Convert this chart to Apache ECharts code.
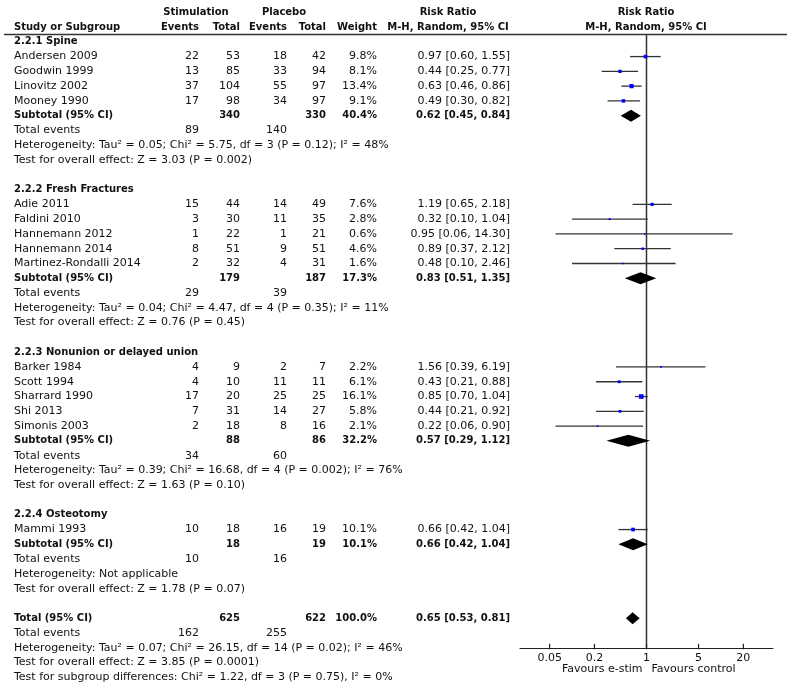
<!DOCTYPE html>
<html>
<head>
<meta charset="utf-8">
<script src="https://cdn.jsdelivr.net/npm/echarts@6/dist/echarts.min.js"></script>
<style>
html,body{margin:0;padding:0;background:#fff;}
#c{width:787px;height:689px;}
</style>
</head>
<body>
<div id="c"></div>
<script>
// ---------------- DATA ----------------
const groupNames = ['2.2.1 Spine', '2.2.2 Fresh Fractures', '2.2.3 Nonunion or delayed union', '2.2.4 Osteotomy'];

const studyGroup = [0, 0, 0, 0, 1, 1, 1, 1, 1, 2, 2, 2, 2, 2, 3];
const studyNames = ['Andersen 2009', 'Goodwin 1999', 'Linovitz 2002', 'Mooney 1990',
  'Adie 2011', 'Faldini 2010', 'Hannemann 2012', 'Hannemann 2014', 'Martinez-Rondalli 2014',
  'Barker 1984', 'Scott 1994', 'Sharrard 1990', 'Shi 2013', 'Simonis 2003', 'Mammi 1993'];
const stimEvents = [22, 13, 37, 17, 15, 3, 1, 8, 2, 4, 4, 17, 7, 2, 10];
const stimTotal = [53, 85, 104, 98, 44, 30, 22, 51, 32, 9, 10, 20, 31, 18, 18];
const placEvents = [18, 33, 55, 34, 14, 11, 1, 9, 4, 2, 11, 25, 14, 8, 16];
const placTotal = [42, 94, 97, 97, 49, 35, 21, 51, 31, 7, 11, 25, 27, 16, 19];
const weights = [9.8, 8.1, 13.4, 9.1, 7.6, 2.8, 0.6, 4.6, 1.6, 2.2, 6.1, 16.1, 5.8, 2.1, 10.1];
const rr = [0.97, 0.44, 0.63, 0.49, 1.19, 0.32, 0.95, 0.89, 0.48, 1.56, 0.43, 0.85, 0.44, 0.22, 0.66];
const rrLow = [0.60, 0.25, 0.46, 0.30, 0.65, 0.10, 0.06, 0.37, 0.10, 0.39, 0.21, 0.70, 0.21, 0.06, 0.42];
const rrHigh = [1.55, 0.77, 0.86, 0.82, 2.18, 1.04, 14.30, 2.12, 2.46, 6.19, 0.88, 1.04, 0.92, 0.90, 1.04];

const subStimTotal = [340, 179, 88, 18];
const subPlacTotal = [330, 187, 86, 19];
const subWeight = [40.4, 17.3, 32.2, 10.1];
const subRR = [0.62, 0.83, 0.57, 0.66];
const subLow = [0.45, 0.51, 0.29, 0.42];
const subHigh = [0.84, 1.35, 1.12, 1.04];
const subStimEvents = [89, 29, 34, 10];
const subPlacEvents = [140, 39, 60, 16];
const subHet = [
  'Heterogeneity: Tau² = 0.05; Chi² = 5.75, df = 3 (P = 0.12); I² = 48%',
  'Heterogeneity: Tau² = 0.04; Chi² = 4.47, df = 4 (P = 0.35); I² = 11%',
  'Heterogeneity: Tau² = 0.39; Chi² = 16.68, df = 4 (P = 0.002); I² = 76%',
  'Heterogeneity: Not applicable'
];
const subTest = [
  'Test for overall effect: Z = 3.03 (P = 0.002)',
  'Test for overall effect: Z = 0.76 (P = 0.45)',
  'Test for overall effect: Z = 1.63 (P = 0.10)',
  'Test for overall effect: Z = 1.78 (P = 0.07)'
];

const totalStim = 625;
const totalPlac = 622;
const totalWeight = 100.0;
const totalRR = 0.65, totalLow = 0.53, totalHigh = 0.81;
const totalStimEvents = 162;
const totalPlacEvents = 255;
const totalLines = [
  'Heterogeneity: Tau² = 0.07; Chi² = 26.15, df = 14 (P = 0.02); I² = 46%',
  'Test for overall effect: Z = 3.85 (P = 0.0001)',
  'Test for subgroup differences: Chi² = 1.22, df = 3 (P = 0.75), I² = 0%'
];

const tickValues = [0.05, 0.2, 1, 5, 20];
const tickLabels = ['0.05', '0.2', '1', '5', '20'];
const nullValue = 1;
const favourLeft = 'Favours e-stim';
const favourRight = 'Favours control';

const headerTop = [['Stimulation', 'c', 196], ['Placebo', 'c', 284], ['Risk Ratio', 'c', 448], ['Risk Ratio', 'c', 646]];
const headerBottom = [['Study or Subgroup', 'l', 14], ['Events', 'r', 199], ['Total', 'r', 240], ['Events', 'r', 287],
  ['Total', 'r', 326], ['Weight', 'r', 377], ['M-H, Random, 95% CI', 'c', 448], ['M-H, Random, 95% CI', 'c', 646]];

// ---------------- LAYOUT ----------------
const COL = { label: 14, se: 199, st: 240, pe: 287, pt: 326, w: 377, ci: 510 };
const REG = '11px "DejaVu Sans"';
const BOLD = 'bold 10px "DejaVu Sans"';
const INK = '#111';
const GRID_TOP = 34.4, GRID_H = 613.4;
const ROW_MIN = -0.5, ROW_MAX = 41;

function fmtCI(e, l, h) { return e.toFixed(2) + ' [' + l.toFixed(2) + ', ' + h.toFixed(2) + ']'; }

const rows = [];
const studyPts = [];
const diamondPts = [];
let r = 0;
groupNames.forEach((g, gi) => {
  rows.push({ row: r++, kind: 'group', label: g });
  studyNames.forEach((n, si) => {
    if (studyGroup[si] !== gi) return;
    rows.push({ row: r, kind: 'study', label: n, se: stimEvents[si], st: stimTotal[si], pe: placEvents[si], pt: placTotal[si],
      w: weights[si].toFixed(1) + '%', ci: fmtCI(rr[si], rrLow[si], rrHigh[si]) });
    studyPts.push([rr[si], r, rrLow[si], rrHigh[si], weights[si]]);
    r++;
  });
  rows.push({ row: r, kind: 'sub', label: 'Subtotal (95% CI)', st: subStimTotal[gi], pt: subPlacTotal[gi],
    w: subWeight[gi].toFixed(1) + '%', ci: fmtCI(subRR[gi], subLow[gi], subHigh[gi]) });
  diamondPts.push([subRR[gi], r, subLow[gi], subHigh[gi]]);
  r++;
  rows.push({ row: r++, kind: 'events', label: 'Total events', se: subStimEvents[gi], pe: subPlacEvents[gi] });
  rows.push({ row: r++, kind: 'text', label: subHet[gi] });
  rows.push({ row: r++, kind: 'text', label: subTest[gi] });
  r++;
});
rows.push({ row: r, kind: 'sub', label: 'Total (95% CI)', st: totalStim, pt: totalPlac, w: totalWeight.toFixed(1) + '%',
  ci: fmtCI(totalRR, totalLow, totalHigh) });
diamondPts.push([totalRR, r, totalLow, totalHigh]);
r++;
rows.push({ row: r++, kind: 'events', label: 'Total events', se: totalStimEvents, pe: totalPlacEvents });
totalLines.forEach(t => rows.push({ row: r++, kind: 'text', label: t }));

function txt(x, y, text, font, align) {
  return { type: 'text', style: { x: x, y: y, text: String(text), font: font, fill: INK, align: align, verticalAlign: 'middle' } };
}

const chart = echarts.init(document.getElementById('c'), null, { renderer: 'canvas', width: 787, height: 689 });

const hiddenAxis = { show: false, axisLine: { show: false, onZero: false }, axisTick: { show: false }, axisLabel: { show: false }, splitLine: { show: false } };

chart.setOption({
  animation: false,
  backgroundColor: '#fff',
  grid: [
    { left: 0, right: 0, top: GRID_TOP, height: GRID_H },
    { left: 520, right: 14, top: GRID_TOP, height: GRID_H }
  ],
  xAxis: [
    Object.assign({ type: 'value', gridIndex: 0, min: 0, max: 787 }, hiddenAxis),
    { type: 'log', logBase: 10, gridIndex: 1, min: 0.02, max: 50,
      axisLine: { show: true, onZero: false, lineStyle: { color: '#222', width: 1.2 } },
      axisTick: { show: false }, axisLabel: { show: false }, splitLine: { show: false } }
  ],
  yAxis: [
    Object.assign({ type: 'value', gridIndex: 0, min: ROW_MIN, max: ROW_MAX, inverse: true }, hiddenAxis),
    Object.assign({ type: 'value', gridIndex: 1, min: ROW_MIN, max: ROW_MAX, inverse: true }, hiddenAxis)
  ],
  series: [
    // table text
    {
      type: 'custom', xAxisIndex: 0, yAxisIndex: 0, clip: false, silent: true,
      data: rows.map(o => [0, o.row]),
      renderItem: function (params, api) {
        const o = rows[params.dataIndex];
        const y = api.coord([0, o.row])[1];
        const X = k => api.coord([COL[k], o.row])[0];
        const ch = [];
        const bold = (o.kind === 'group' || o.kind === 'sub');
        const f = bold ? BOLD : REG;
        ch.push(txt(X('label'), y, o.label, f, 'left'));
        if (o.se !== undefined) ch.push(txt(X('se'), y, o.se, f, 'right'));
        if (o.st !== undefined) ch.push(txt(X('st'), y, o.st, f, 'right'));
        if (o.pe !== undefined) ch.push(txt(X('pe'), y, o.pe, f, 'right'));
        if (o.pt !== undefined) ch.push(txt(X('pt'), y, o.pt, f, 'right'));
        if (o.w !== undefined) ch.push(txt(X('w'), y, o.w, f, 'right'));
        if (o.ci !== undefined) ch.push(txt(X('ci'), y, o.ci, f, 'right'));
        return { type: 'group', children: ch };
      }
    },
    // headers and header rule
    {
      type: 'custom', xAxisIndex: 0, yAxisIndex: 0, clip: false, silent: true,
      data: [[0, -2], [0, -1]],
      renderItem: function (params, api) {
        const row = params.dataIndex === 0 ? -2 : -1;
        const list = params.dataIndex === 0 ? headerTop : headerBottom;
        const y = api.coord([0, row])[1];
        const ch = list.map(h => txt(api.coord([h[2], row])[0], y, h[0], BOLD,
          h[1] === 'l' ? 'left' : (h[1] === 'r' ? 'right' : 'center')));
        if (row === -1) {
          const a = api.coord([4, ROW_MIN]);
          const b = api.coord([787, ROW_MIN]);
          ch.push({ type: 'line', shape: { x1: a[0], y1: a[1], x2: b[0], y2: b[1] }, style: { stroke: '#333', lineWidth: 1.5 } });
        }
        return { type: 'group', children: ch };
      }
    },
    // null line
    {
      type: 'custom', xAxisIndex: 1, yAxisIndex: 1, clip: false, silent: true,
      data: [[nullValue, ROW_MIN]],
      renderItem: function (params, api) {
        const a = api.coord([api.value(0), ROW_MIN]);
        const b = api.coord([api.value(0), ROW_MAX]);
        return { type: 'line', shape: { x1: a[0], y1: a[1], x2: b[0], y2: b[1] }, style: { stroke: '#333', lineWidth: 1.5 } };
      }
    },
    // study CIs and squares
    {
      type: 'custom', xAxisIndex: 1, yAxisIndex: 1, clip: false, silent: true,
      data: studyPts,
      renderItem: function (params, api) {
        const row = api.value(1);
        const c = api.coord([api.value(0), row]);
        const lo = api.coord([api.value(2), row]);
        const hi = api.coord([api.value(3), row]);
        const s = Math.max(1.6, 1.15 * Math.sqrt(api.value(4)));
        return { type: 'group', children: [
          { type: 'line', shape: { x1: lo[0], y1: c[1], x2: hi[0], y2: c[1] }, style: { stroke: '#333', lineWidth: 1.3 } },
          { type: 'rect', shape: { x: c[0] - s / 2, y: c[1] - s / 2, width: s, height: s }, style: { fill: '#0000ff' } }
        ] };
      }
    },
    // diamonds
    {
      type: 'custom', xAxisIndex: 1, yAxisIndex: 1, clip: false, silent: true,
      data: diamondPts,
      renderItem: function (params, api) {
        const row = api.value(1);
        const c = api.coord([api.value(0), row]);
        const lo = api.coord([api.value(2), row]);
        const hi = api.coord([api.value(3), row]);
        const h = 6;
        return { type: 'polygon', shape: { points: [[lo[0], c[1]], [c[0], c[1] - h], [hi[0], c[1]], [c[0], c[1] + h]] },
          style: { fill: '#000' } };
      }
    },
    // axis ticks and labels
    {
      type: 'custom', xAxisIndex: 1, yAxisIndex: 1, clip: false, silent: true,
      data: tickValues.map(v => [v, ROW_MAX]),
      renderItem: function (params, api) {
        const p = api.coord([api.value(0), ROW_MAX]);
        return { type: 'group', children: [
          { type: 'line', shape: { x1: p[0], y1: p[1] - 4, x2: p[0], y2: p[1] + 1.5 }, style: { stroke: '#222', lineWidth: 1.2 } },
          txt(p[0], p[1] + 10, tickLabels[params.dataIndex], REG, 'center')
        ] };
      }
    },
    // favours labels
    {
      type: 'custom', xAxisIndex: 1, yAxisIndex: 1, clip: false, silent: true,
      data: [[nullValue, ROW_MAX]],
      renderItem: function (params, api) {
        const p = api.coord([api.value(0), ROW_MAX]);
        return { type: 'group', children: [
          txt(p[0] - 4, p[1] + 21.5, favourLeft, REG, 'right'),
          txt(p[0] + 5, p[1] + 21.5, favourRight, REG, 'left')
        ] };
      }
    }
  ]
});
</script>
</body>
</html>
